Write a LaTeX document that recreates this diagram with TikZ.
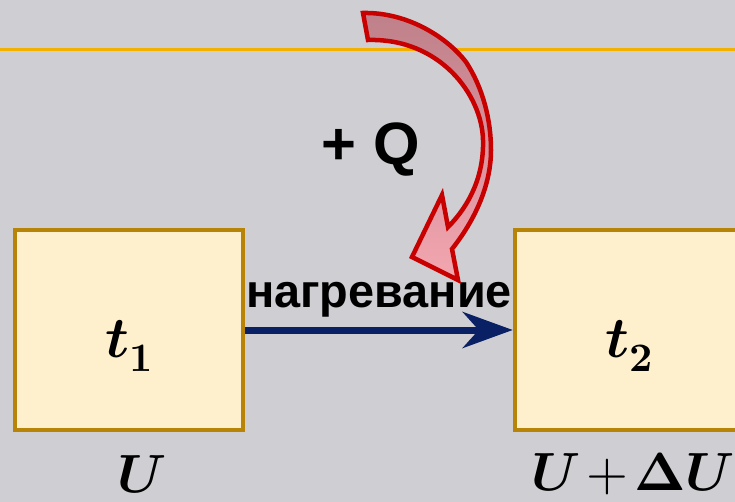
\documentclass[tikz,border=0pt]{standalone}
\usepackage{fontspec}
\usepackage{unicode-math}
\setmathfont{Latin Modern Math}
\newfontfamily\labelfont{Liberation Sans}
\usetikzlibrary{arrows.meta}

\definecolor{bggray}{RGB}{207,207,211}
\definecolor{lineorange}{RGB}{242,176,0}
\definecolor{boxedge}{RGB}{184,132,8}
\definecolor{boxfill}{RGB}{255,240,205}
\definecolor{heatnavy}{RGB}{10,32,100}
\definecolor{heatred}{RGB}{200,0,0}
\definecolor{heattop}{RGB}{190,128,138}
\definecolor{heatbottom}{RGB}{243,166,176}

\begin{document}
\begin{tikzpicture}[x=1bp,y=-1bp,>={Stealth[length=50bp,width=36bp,inset=16bp]},
  statebox/.style={draw=boxedge,fill=boxfill,line width=4.5bp,
    minimum width=228bp,minimum height=200bp,inner sep=0pt,
    font=\fontsize{58}{60}\selectfont},
  energy/.style={anchor=base,inner sep=0pt,font=\fontsize{54}{60}\selectfont},
  boldsans/.style={anchor=base,inner sep=0pt,font=\labelfont\bfseries}]
  \clip (0,0) rectangle (735,502);
  \fill[bggray] (0,0) rectangle (735,502);
  % orange rule along the top
  \draw[lineorange,line width=3bp] (0,50) -- (735,50);
  % the two states
  \node[statebox] (box1) at (129,330) {\smash{\raisebox{-27bp}{$\symbfit{t}_{\symbf{1}}$}}};
  \node[statebox] (box2) at (629,330) {\smash{\raisebox{-27bp}{$\symbfit{t}_{\symbf{2}}$}}};
  \node[energy] (u1) at (142,492) {$\symbfit{U}$};
  \node[energy] (u2) at (633,490) {\medmuskip=2mu$\symbfit{U}+\symbfup{\Delta}\symbfit{U}$};
  % heating: t1 -> t2
  \draw[->,heatnavy,line width=7bp] (box1.east) -- (box2.west)
    node[midway,boldsans,yshift=23bp,black,font=\labelfont\bfseries\fontsize{47}{50}\selectfont] (heat) {нагревание};
  % heat supplied
  \node[boldsans,font=\labelfont\bfseries\fontsize{60}{64}\selectfont] (heatq) at (371,165) {+ Q};
  \draw[heatred,line width=4.5bp,top color=heattop,bottom color=heatbottom]
    (363,13) .. controls (405,12) and (445,35) .. (466,62)
    .. controls (483,88) and (491,120) .. (491,150)
    .. controls (491,185) and (475,220) .. (452,249)
    -- (458,280) -- (412,257) -- (442,195) -- (448,227)
    .. controls (470,205) and (484,175) .. (483,140)
    .. controls (482,95) and (440,38) .. (368,40) -- cycle;
\end{tikzpicture}
\end{document}
